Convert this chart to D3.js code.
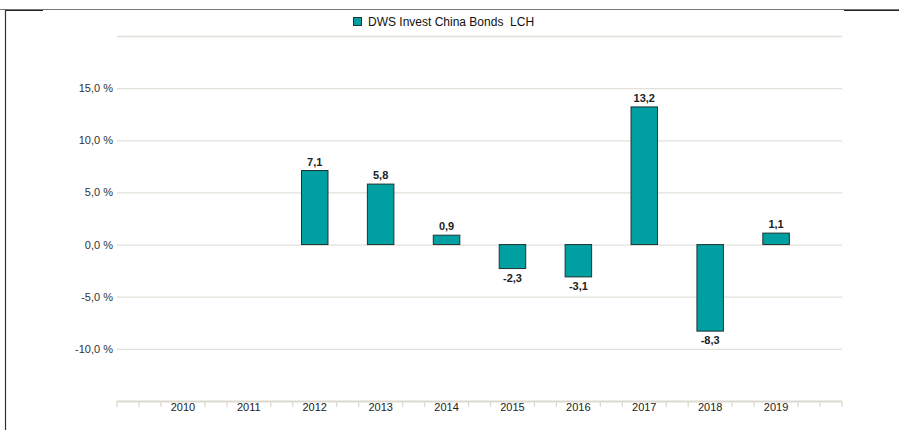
<!DOCTYPE html>
<html>
<head>
<meta charset="utf-8">
<script src="https://cdn.jsdelivr.net/npm/d3@7"></script>
<style>
  body { margin: 0; background: #fff; }
  text { font-family: "Liberation Sans", Arial, sans-serif; }
</style>
</head>
<body>
<div id="chart"></div>
<script>
// data
var years = ["2010", "2011", "2012", "2013", "2014", "2015", "2016", "2017", "2018", "2019"];
var returns = [null, null, 7.1, 5.8, 0.9, -2.3, -3.1, 13.2, -8.3, 1.1];
var yTicks = [-10, -5, 0, 5, 10, 15];
var gridTicks = [-10, -5, 0, 5, 10, 15, 20];
var seriesName = "DWS Invest China Bonds  LCH";

var svgWidth = 899;
var svgHeight = 430;

var svg = d3.select("#chart")
  .append("svg")
  .attr("width", svgWidth)
  .attr("height", svgHeight);

// german style: comma decimal, plain hyphen minus
var fmt = function(v) { return v.toFixed(1).replace(".", ","); };

var x = d3.scalePoint()
  .domain(years)
  .range([117, 842])
  .padding(1);

var y = d3.scaleLinear()
  .domain([-15, 20])
  .range([401, 36]);

// outer frame bits
svg.append("line").attr("x1", 0).attr("x2", 899).attr("y1", 9.5).attr("y2", 9.5)
  .attr("stroke", "#777").attr("stroke-width", 1);
svg.append("line").attr("x1", 5).attr("x2", 43).attr("y1", 10.5).attr("y2", 10.5)
  .attr("stroke", "#222").attr("stroke-width", 1.2);
svg.append("line").attr("x1", 844).attr("x2", 899).attr("y1", 10.5).attr("y2", 10.5)
  .attr("stroke", "#222").attr("stroke-width", 1.2);
svg.append("line").attr("x1", 5.5).attr("x2", 5.5).attr("y1", 10).attr("y2", 430)
  .attr("stroke", "#333").attr("stroke-width", 1.2);

// gridlines
svg.append("g")
  .selectAll("line")
  .data(gridTicks)
  .enter()
  .append("line")
  .attr("x1", 117)
  .attr("x2", 842)
  .attr("y1", d => y(d) + 0.5)
  .attr("y2", d => y(d) + 0.5)
  .attr("stroke", "#e2e0d9")
  .attr("stroke-width", 1.3);

// y labels
svg.append("g")
  .selectAll("text")
  .data(yTicks)
  .enter()
  .append("text")
  .attr("x", 113)
  .attr("y", d => y(d) + 4)
  .attr("text-anchor", "end")
  .attr("font-size", "11px")
  .attr("fill", "#333")
  .text(d => fmt(d) + " %");

// bottom axis: line + minor ticks, hidden where the year labels sit
var step = x.step();
var minor = d3.range(0, 34).map(i => 117 + i * step / 3);
var axisG = svg.append("g");
axisG.append("line")
  .attr("x1", 117).attr("x2", 842)
  .attr("y1", 401.5).attr("y2", 401.5)
  .attr("stroke", "#dcd9d0").attr("stroke-width", 2);
axisG.selectAll(".tk")
  .data(minor.filter((d, i) => i % 3 !== 0 || i === 0 || i === 33))
  .enter()
  .append("line")
  .attr("x1", d => d).attr("x2", d => d)
  .attr("y1", 401).attr("y2", 407)
  .attr("stroke", "#dcd9d0").attr("stroke-width", 1.3);
axisG.selectAll(".yl")
  .data(years)
  .enter()
  .append("text")
  .attr("x", d => x(d))
  .attr("y", 411)
  .attr("text-anchor", "middle")
  .attr("font-size", "11px")
  .attr("fill", "#222")
  .text(d => d);

// bars
var barW = 26.5;
var data = years.map((yr, i) => ({ year: yr, value: returns[i] })).filter(d => d.value !== null);

svg.append("g")
  .selectAll("rect")
  .data(data)
  .enter()
  .append("rect")
  .attr("x", d => x(d.year) - barW / 2)
  .attr("y", d => y(Math.max(0, d.value)))
  .attr("width", barW)
  .attr("height", d => Math.abs(y(d.value) - y(0)))
  .attr("fill", "#009fa1")
  .attr("stroke", "#1f3333")
  .attr("stroke-width", 1);

// value labels
svg.append("g")
  .selectAll("text")
  .data(data)
  .enter()
  .append("text")
  .attr("x", d => x(d.year))
  .attr("y", d => d.value >= 0 ? y(d.value) - 5 : y(d.value) + 13)
  .attr("text-anchor", "middle")
  .attr("font-size", "11px")
  .attr("font-weight", "bold")
  .attr("fill", "#222")
  .text(d => fmt(d.value));

// legend
var legend = svg.append("g");
legend.append("rect")
  .attr("x", 353.5).attr("y", 17.5)
  .attr("width", 8).attr("height", 8)
  .attr("fill", "#009fa1")
  .attr("stroke", "#1f3333");
legend.append("text")
  .attr("x", 368)
  .attr("y", 25.5)
  .attr("font-size", "12px")
  .attr("fill", "#111")
  .style("white-space", "pre")
  .text(seriesName);
</script>
</body>
</html>
